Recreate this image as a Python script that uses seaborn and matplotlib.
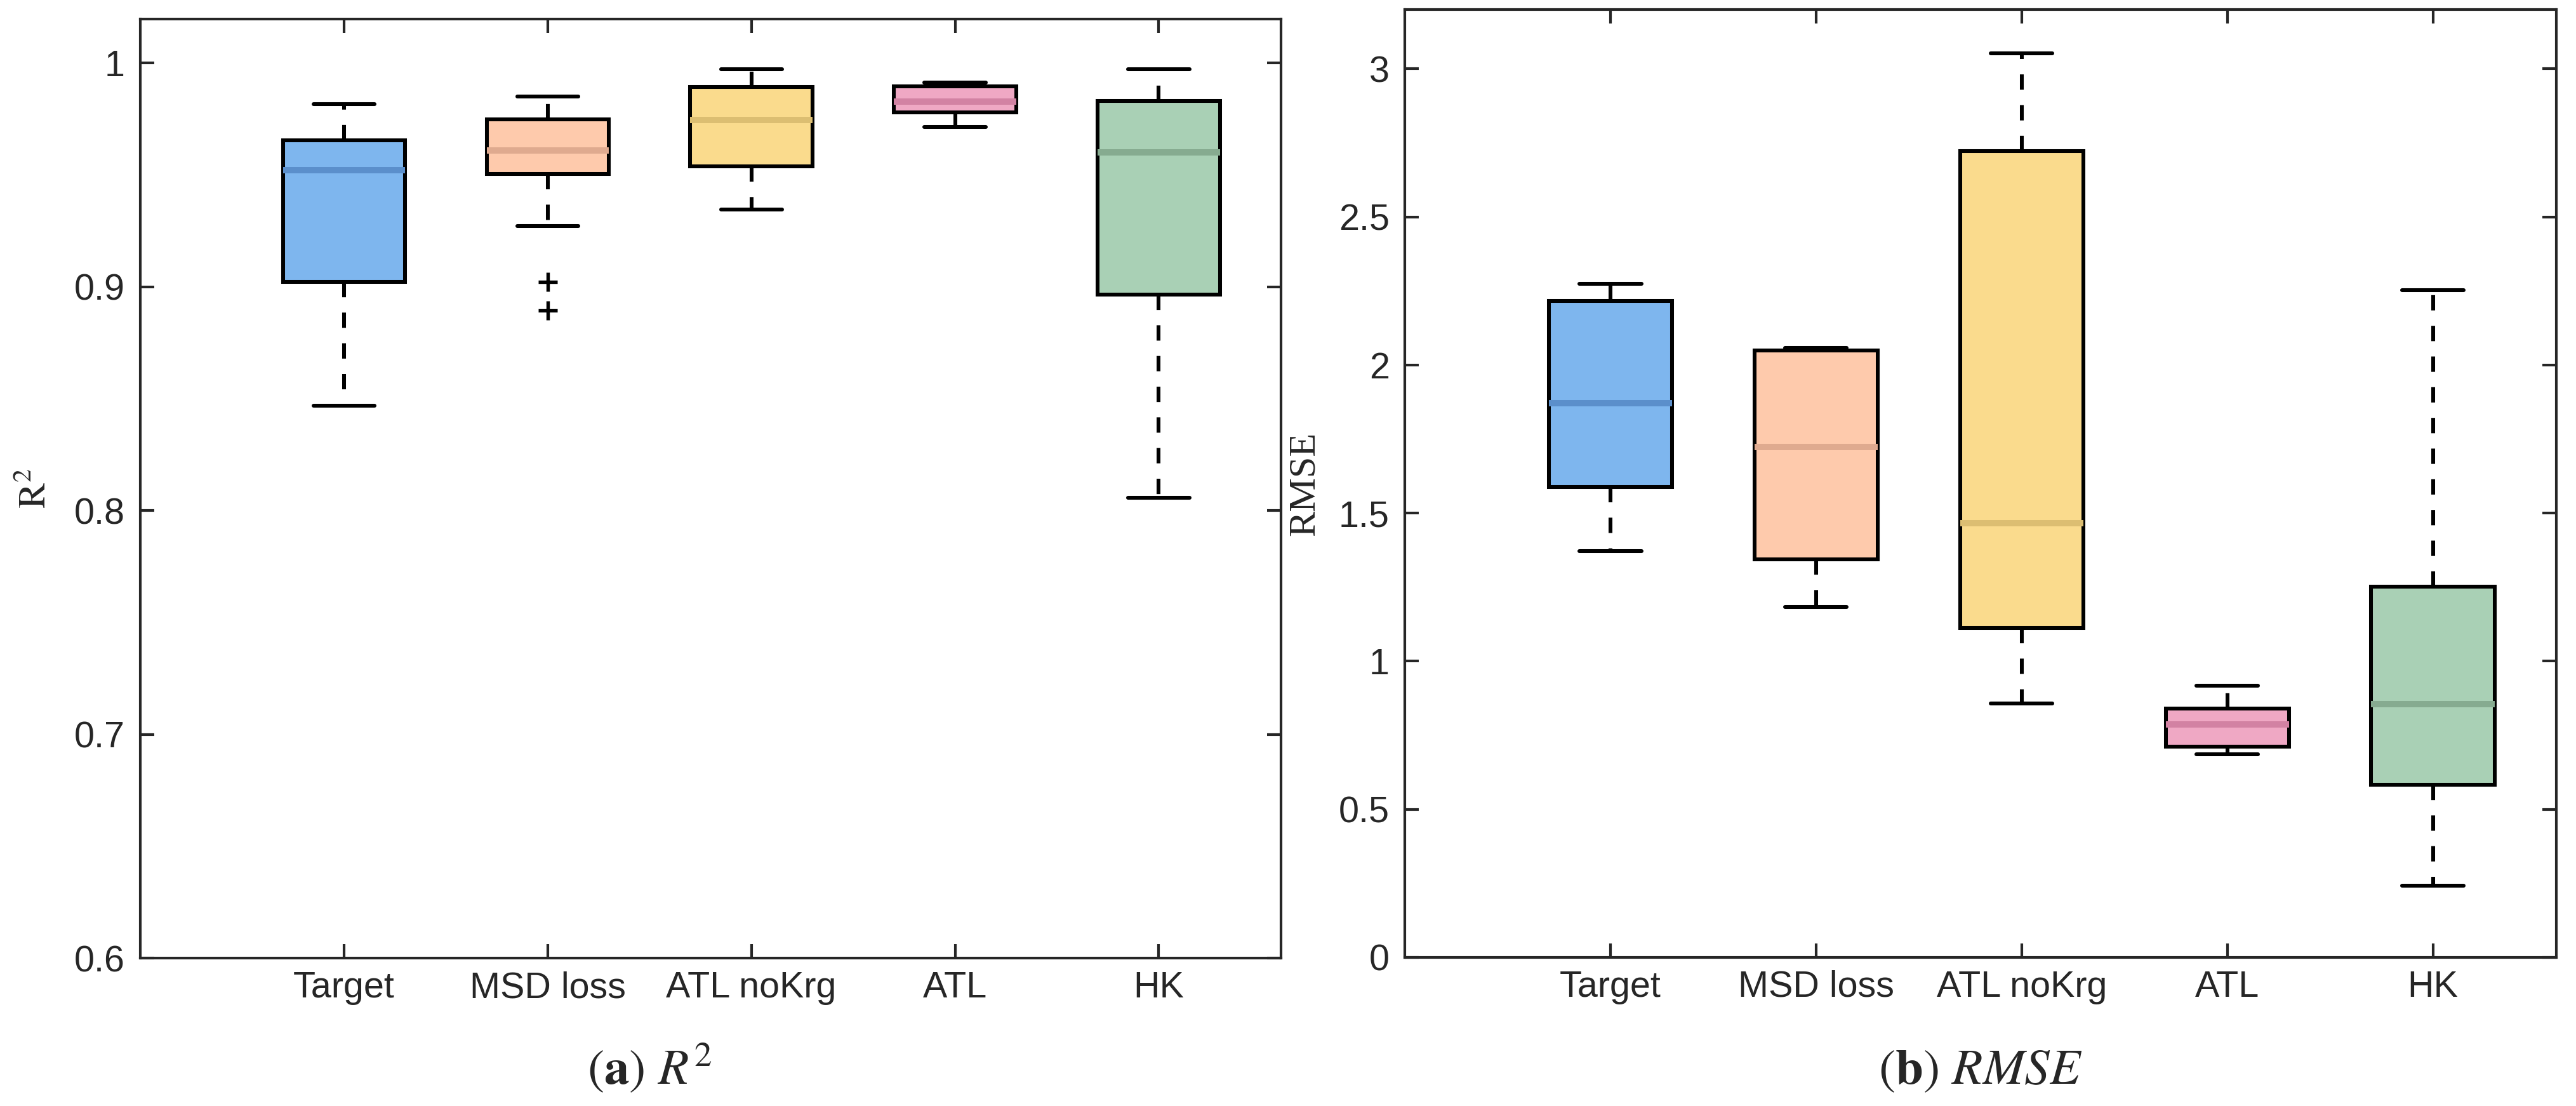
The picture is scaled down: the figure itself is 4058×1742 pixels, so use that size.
import pandas as pd
import seaborn as sns
import matplotlib.pyplot as plt
from matplotlib.ticker import FuncFormatter


methods = ["Target", "MSD loss", "ATL noKrg", "ATL", "HK"]
box_colors = ["#7EB6EE", "#FECAAC", "#FADB8D", "#EFA8C4", "#A9D0B5"]
median_colors = ["#5B8FCB", "#DFAA8F", "#DCBE72", "#D282A3", "#86AB90"]

# R2 box summaries per method (lower whisker, Q1, median, Q3, upper whisker)
r2_low = [0.8467, 0.9271, 0.9344, 0.9713, 0.8057]
r2_q1 = [0.9022, 0.9505, 0.9539, 0.9779, 0.8965]
r2_median = [0.9520, 0.9609, 0.9744, 0.9826, 0.9600]
r2_q3 = [0.9653, 0.9748, 0.9893, 0.9896, 0.9830]
r2_high = [0.9817, 0.9849, 0.9972, 0.9912, 0.9972]
r2_outlier_method = ["MSD loss", "MSD loss"]
r2_outlier_value = [0.9022, 0.8893]

# RMSE box summaries per method
rmse_low = [1.371, 1.183, 0.857, 0.686, 0.243]
rmse_q1 = [1.588, 1.343, 1.112, 0.712, 0.583]
rmse_median = [1.871, 1.724, 1.467, 0.786, 0.855]
rmse_q3 = [2.217, 2.050, 2.721, 0.840, 1.252]
rmse_high = [2.274, 2.057, 3.052, 0.917, 2.252]

r2_ticks = [0.6, 0.7, 0.8, 0.9, 1.0]
rmse_ticks = [0, 0.5, 1, 1.5, 2, 2.5, 3]


def summary_frame(low, q1, med, q3, high) -> pd.DataFrame:
    """Long table with the five summary values of every method."""
    rows = []
    for i, m in enumerate(methods):
        for v in (low[i], q1[i], med[i], q3[i], high[i]):
            rows.append({"method": m, "value": v})
    return pd.DataFrame(rows)


def draw_panel(ax, df, ylim, yticks, ylabel, label_x, caption, caption_x, fig):
    sns.boxplot(
        data=df,
        x="method",
        y="value",
        hue="method",
        order=methods,
        hue_order=methods,
        palette=box_colors,
        saturation=1,
        width=0.6,
        whis=(0, 100),
        showfliers=False,
        linecolor="black",
        linewidth=1.45,
        legend=False,
        ax=ax,
        whiskerprops={"linestyle": (0, (4, 4))},
        medianprops={"linewidth": 2.4},
    )
    for cont, c in zip(ax.containers, median_colors):
        for med in cont.medians:
            med.set_color(c)

    ax.set_xlim(-1, 4.6)
    ax.set_ylim(*ylim)
    ax.set_yticks(yticks)
    ax.yaxis.set_major_formatter(FuncFormatter(lambda v, _: f"{v:g}"))
    ax.set_xlabel("")
    ax.set_ylabel(ylabel, fontsize=14.5, family="Liberation Serif")
    ax.yaxis.set_label_coords(label_x, 0.5)

    ax.tick_params(axis="both", direction="in", length=5.3, width=1.0,
                   top=True, right=True, labelsize=13.8, colors=".15")
    ax.tick_params(axis="x", pad=4.8)
    ax.tick_params(axis="y", pad=5.8)
    for sp in ax.spines.values():
        sp.set_linewidth(1.0)
        sp.set_color(".15")
        sp.set_visible(True)

    fig.text(caption_x, 0.0201, caption, ha="center", va="baseline", fontsize=19)


def main() -> None:
    sns.set_style("ticks")
    plt.rcParams["font.family"] = ["Liberation Sans", "DejaVu Sans"]
    plt.rcParams["mathtext.fontset"] = "stix"

    fig = plt.figure(figsize=(4058 / 300, 1742 / 300), dpi=300)
    ax_r2 = fig.add_axes([0.05446, 0.13375, 0.44283, 0.84903])
    ax_rmse = fig.add_axes([0.54534, 0.13433, 0.44702, 0.85706])

    r2_df = summary_frame(r2_low, r2_q1, r2_median, r2_q3, r2_high)
    rmse_df = summary_frame(rmse_low, rmse_q1, rmse_median, rmse_q3, rmse_high)

    draw_panel(ax_r2, r2_df, (0.6, 1.0196), r2_ticks, r"$\mathrm{R}^{2}$",
               -0.076, r"$(\mathbf{a})\ R^{2}$", 0.2521, fig)
    ax_r2.plot(
        [methods.index(m) for m in r2_outlier_method],
        r2_outlier_value,
        linestyle="none",
        marker="+",
        color="black",
        markersize=7,
        markeredgewidth=1.3,
    )

    draw_panel(ax_rmse, rmse_df, (0, 3.2), rmse_ticks, "RMSE",
               -0.072, r"$(\mathbf{b})\ RMSE$", 0.7689, fig)

    fig.savefig("out.png", dpi=300)


if __name__ == "__main__":
    main()
